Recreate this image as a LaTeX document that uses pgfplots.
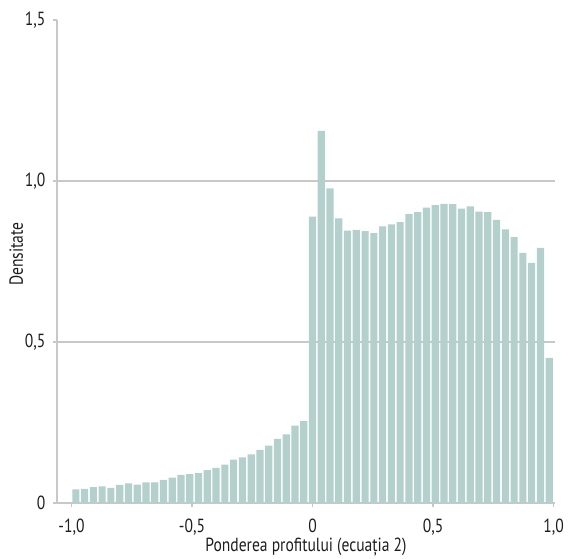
\documentclass[border=0pt]{standalone}
\usepackage{pgfplots}
\pgfplotsset{compat=1.18}
\usepackage{fontspec}
\setmainfont[FakeStretch=0.82]{PT Sans}
\definecolor{barc}{RGB}{180,208,204}
\definecolor{gridc}{RGB}{200,200,200}
\definecolor{txt}{RGB}{30,30,30}
\begin{document}
\begin{tikzpicture}[font=\fontsize{19}{22}\selectfont]
\useasboundingbox (-57pt,-55pt) rectangle (511pt,503pt);
\begin{axis}[
  scale only axis,
  width=498pt, height=483pt,
  anchor=south west, at={(0pt,0pt)},
  xmin=-1.060, xmax=1.006,
  ymin=0, ymax=1.5,
  axis x line*=bottom, axis y line*=left,
  axis line style={gridc, line width=1.2pt},
  every tick/.style={gridc, line width=1.2pt},
  tick align=outside,
  major tick length=4pt,
  xtick={-1,-0.5,0,0.5,1},
  xticklabels={{-1,0},{-0,5},0,{0,5},{1,0}},
  ytick={0,0.5,1,1.5},
  yticklabels={0,{0,5},{1,0},{1,5}},
  extra y ticks={0.5,1},
  extra y tick labels={},
  extra y tick style={grid=major, major tick length=0pt},
  grid style={gridc, line width=1.2pt},
  ticklabel style={text=txt},
  xticklabel style={anchor=base, yshift=-25pt},
  yticklabel style={anchor=east, xshift=-4pt},
  xlabel={Ponderea profitului (ecuația 2)},
  ylabel={Densitate},
  xlabel style={at={(axis description cs:0.5,-0.101)}, anchor=base, text=txt},
  ylabel style={at={(axis description cs:-0.082,0.515)}, anchor=center, text=txt},
  clip=false,
]
\addplot[ybar, bar width=0.0298, fill=barc, draw=none] coordinates {
(-0.9818,0.042) (-0.9455,0.044) (-0.9091,0.049) (-0.8727,0.052) (-0.8364,0.047)
(-0.8000,0.056) (-0.7636,0.061) (-0.7273,0.057) (-0.6909,0.064) (-0.6545,0.064)
(-0.6182,0.072) (-0.5818,0.079) (-0.5455,0.087) (-0.5091,0.090) (-0.4727,0.093)
(-0.4364,0.102) (-0.4000,0.109) (-0.3636,0.119) (-0.3273,0.135) (-0.2909,0.142)
(-0.2545,0.151) (-0.2182,0.165) (-0.1818,0.178) (-0.1455,0.199) (-0.1091,0.213)
(-0.0727,0.240) (-0.0364,0.254) (0.0000,0.889) (0.0364,1.156) (0.0727,0.977)
(0.1091,0.884) (0.1455,0.846) (0.1818,0.848) (0.2182,0.844) (0.2545,0.838)
(0.2909,0.859) (0.3273,0.865) (0.3636,0.872) (0.4000,0.898) (0.4364,0.903)
(0.4727,0.917) (0.5091,0.925) (0.5455,0.929) (0.5818,0.928) (0.6182,0.914)
(0.6545,0.921) (0.6909,0.905) (0.7273,0.903) (0.7636,0.879) (0.8000,0.850)
(0.8364,0.826) (0.8727,0.777) (0.9091,0.746) (0.9455,0.792) (0.9818,0.451)
};
\end{axis}
\end{tikzpicture}
\end{document}
